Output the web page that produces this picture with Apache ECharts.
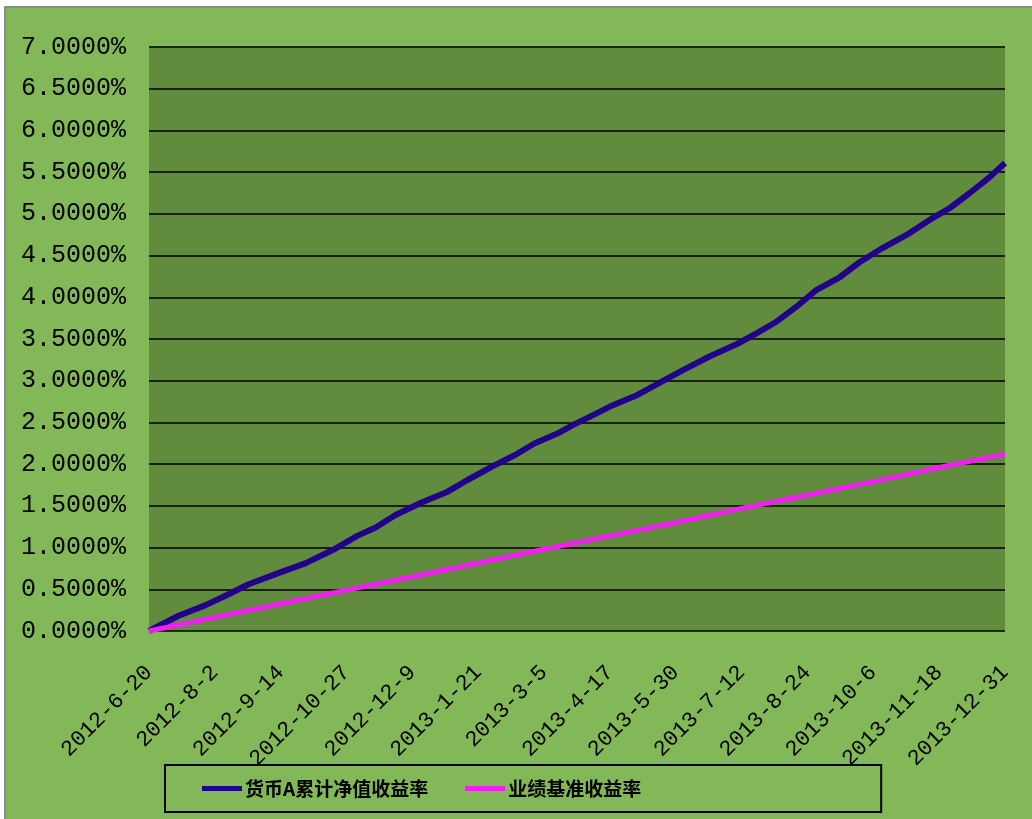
<!DOCTYPE html>
<html><head><meta charset="utf-8">
<script src="https://cdn.jsdelivr.net/npm/echarts@6/dist/echarts.min.js"></script>
<style>
html,body{margin:0;padding:0;background:#fff;width:1032px;height:819px;overflow:hidden}
#frame{position:absolute;left:4px;top:6px;width:1040px;height:830px;background:#83b858;border-left:2px solid #8c8c8c;border-top:2px solid #8c8c8c}
#chart{position:absolute;left:0;top:0;width:1032px;height:819px}
</style></head><body>
<div id="frame"></div><div id="chart"></div>
<script>
// ---- data ----
const startDate = '2012-6-20';
const endDate = '2013-12-31';
const tickLabels = ['2012-6-20','2012-8-2','2012-9-14','2012-10-27','2012-12-9','2013-1-21','2013-3-5',
  '2013-4-17','2013-5-30','2013-7-12','2013-8-24','2013-10-6','2013-11-18','2013-12-31'];
const seriesNames = ['货币A累计净值收益率', '业绩基准收益率'];
const fundDates = ['2012-6-20','2012-7-9','2012-7-27','2012-8-11','2012-8-24','2012-9-12','2012-9-30','2012-10-18',
  '2012-11-3','2012-11-15','2012-11-28','2012-12-15','2013-1-1','2013-1-14','2013-1-30','2013-2-14','2013-2-27',
  '2013-3-14','2013-3-25','2013-4-4','2013-4-17','2013-5-5','2013-5-22','2013-6-4','2013-6-21','2013-7-9',
  '2013-7-22','2013-8-4','2013-8-17','2013-8-30','2013-9-14','2013-9-27','2013-10-12','2013-10-28','2013-11-12',
  '2013-11-25','2013-12-8','2013-12-21','2013-12-31'];
const fundValues = [0, 0.18, 0.31, 0.44, 0.56, 0.69, 0.81, 0.97,
  1.14, 1.24, 1.39, 1.54, 1.67, 1.81, 1.97, 2.11, 2.25,
  2.37, 2.48, 2.57, 2.69, 2.83, 3.00, 3.13, 3.29, 3.44,
  3.57, 3.71, 3.89, 4.09, 4.24, 4.42, 4.59, 4.75, 4.93,
  5.07, 5.25, 5.44, 5.61];
const benchDates = tickLabels;
const benchValues = [0, 0.163, 0.326, 0.49, 0.65, 0.815, 0.98, 1.14, 1.30, 1.47, 1.63, 1.79, 1.96, 2.12];

// ---- categories: every calendar day ----
function buildCategories(a, b) {
  const p = s => { const t = s.split('-').map(Number); return Date.UTC(t[0], t[1]-1, t[2]); };
  const out = [];
  for (let t = p(a); t <= p(b); t += 86400000) {
    const d = new Date(t);
    out.push(d.getUTCFullYear() + '-' + (d.getUTCMonth()+1) + '-' + d.getUTCDate());
  }
  return out;
}
const categories = buildCategories(startDate, endDate);
const tickSet = new Set(tickLabels);
const pair = (ds, vs) => ds.map((d, i) => [d, vs[i]]);

const chart = echarts.init(document.getElementById('chart'), null, {renderer: 'canvas'});
chart.setOption({
  backgroundColor: 'transparent',
  animation: false,
  grid: {left: 149, right: 27, top: 47, bottom: 188, show: true, backgroundColor: '#628c3d', borderWidth: 0},
  xAxis: {
    type: 'category', data: categories, boundaryGap: false,
    axisLine: {show: false}, axisTick: {show: false}, splitLine: {show: false},
    axisLabel: {
      interval: (idx, val) => tickSet.has(val),
      rotate: 45, margin: 38, color: '#000',
      fontFamily: 'Liberation Mono', fontSize: 22
    }
  },
  yAxis: {
    type: 'value', min: 0, max: 7, interval: 0.5,
    axisLine: {show: false}, axisTick: {show: false},
    splitLine: {show: true, lineStyle: {color: '#000', width: 1.5}},
    axisLabel: {
      formatter: v => v.toFixed(4) + '%', margin: 23, color: '#000',
      fontFamily: 'Liberation Mono', fontSize: 25
    }
  },
  legend: {
    left: 165, top: 765,
    padding: [14, 240, 14, 37],
    borderColor: '#000', borderWidth: 2,
    itemWidth: 40, itemHeight: 5, itemGap: 37,
    icon: 'rect',
    textStyle: {fontFamily: 'Noto Sans CJK SC', fontSize: 19, fontWeight: 'bold', color: '#000', padding: [0,0,0,-2]},
    data: seriesNames
  },
  series: [
    {name: seriesNames[0], type: 'line', data: pair(fundDates, fundValues), symbol: 'none',
     lineStyle: {color: '#22008c', width: 6}, itemStyle: {color: '#22008c'}},
    {name: seriesNames[1], type: 'line', data: pair(benchDates, benchValues), symbol: 'none',
     lineStyle: {color: '#f020f0', width: 5}, itemStyle: {color: '#f020f0'}}
  ]
});
</script></body></html>
